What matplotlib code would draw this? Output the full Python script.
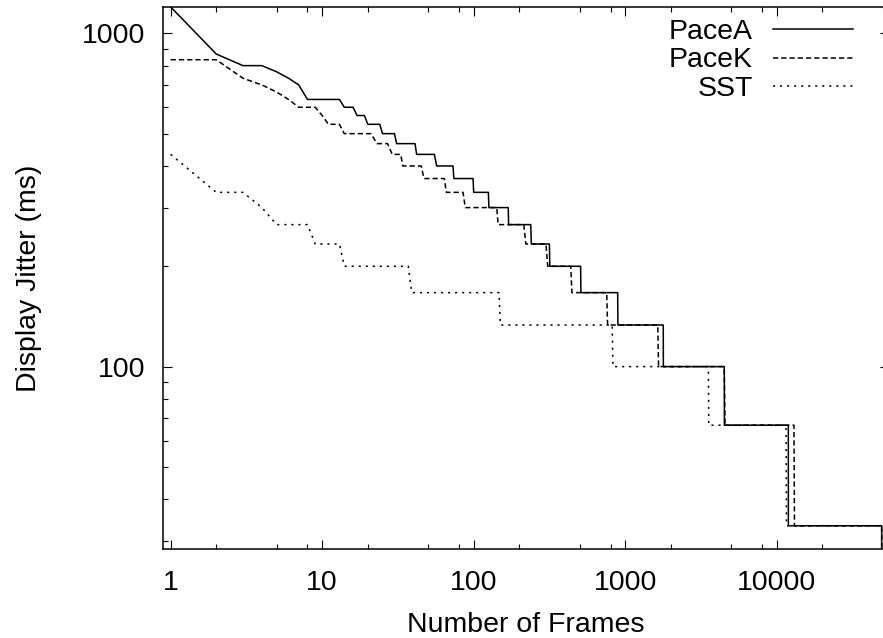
import matplotlib
matplotlib.use('Agg')
import matplotlib.pyplot as plt
from matplotlib.ticker import LogLocator, FuncFormatter, NullFormatter

plt.rcParams['font.family'] = ['Liberation Sans', 'DejaVu Sans']

# ---- data (rank of frame, display jitter in ms) ----
pacea_frames = [1, 2, 3, 4, 5, 6, 7, 8, 13, 14, 16, 17, 19, 20, 24, 25, 30, 31, 41, 42,
                55, 57, 73, 74, 99, 100, 125, 126, 169, 170, 238, 240, 316, 318, 508, 510,
                892, 895, 1783, 1786, 4510, 4515, 11930, 11940, 49300, 49310]
pacea_jitter = [1200, 866.7, 800, 800, 766.7, 733.3, 700, 633.3, 633.3, 600, 600, 566.7,
                566.7, 533.3, 533.3, 500, 500, 466.7, 466.7, 433.3, 433.3, 400, 400, 366.7,
                366.7, 333.3, 333.3, 300, 300, 266.7, 266.7, 233.3, 233.3, 200, 200, 166.7,
                166.7, 133.3, 133.3, 100, 100, 66.7, 66.7, 33.3, 33.3, 20]

pacek_frames = [1, 2, 3, 4, 5, 6, 7, 9, 10, 11, 13, 14, 21, 23, 27, 29, 33, 34, 45, 47,
                64, 66, 85, 88, 142, 145, 214, 221, 300, 308, 437, 445, 755, 765, 1640,
                1660, 4500, 4560, 13000, 13100, 49300, 49310]
pacek_jitter = [833.3, 833.3, 733.3, 700, 666.7, 633.3, 600, 600, 566.7, 533.3, 533.3,
                500, 500, 466.7, 466.7, 433.3, 433.3, 400, 400, 366.7, 366.7, 333.3, 333.3,
                300, 300, 266.7, 266.7, 233.3, 233.3, 200, 200, 166.7, 166.7, 133.3, 133.3,
                100, 100, 66.7, 66.7, 33.3, 33.3, 20]

sst_frames = [1, 2, 3, 4, 5, 8, 9, 13, 14, 37, 39, 147, 150, 820, 830, 3540, 3560,
              11520, 11600, 49300, 49310]
sst_jitter = [433.3, 333.3, 333.3, 300, 266.7, 266.7, 233.3, 233.3, 200, 200, 166.7,
              166.7, 133.3, 133.3, 100, 100, 66.7, 66.7, 33.3, 33.3, 20]

series_names = ['PaceA', 'PaceK', 'SST']
x_label = 'Number of Frames'
y_label = 'Display Jitter (ms)'

# ---- figure ----
W, H = 883, 638
fig = plt.figure(figsize=(W / 100, H / 100), dpi=100)
left_px, right_px, top_px, bottom_px = 163.3, 889.0, 6.7, 549.3
ax = fig.add_axes([left_px / W, 1 - bottom_px / H,
                   (right_px - left_px) / W, (bottom_px - top_px) / H])
ax.set_xscale('log')
ax.set_yscale('log')

lw = 1.1
ax.plot(pacea_frames, pacea_jitter, color='black', lw=lw, ls='-', label=series_names[0])
ax.plot(pacek_frames, pacek_jitter, color='black', lw=lw, ls=(0, (3.4, 2.0)),
        label=series_names[1])
ax.plot(sst_frames, sst_jitter, color='black', lw=lw, ls=(0, (1.4, 3.2)),
        label=series_names[2])

ax.set_xlim(0.894, 55100)
ax.set_ylim(28.3, 1202)

ax.xaxis.set_major_locator(LogLocator(base=10, numticks=20))
ax.xaxis.set_minor_locator(LogLocator(base=10, subs=(2, 5, 8), numticks=20))
ax.yaxis.set_major_locator(LogLocator(base=10, numticks=20))
ax.yaxis.set_minor_locator(LogLocator(base=10, subs=tuple(range(2, 10)), numticks=20))
fmt = FuncFormatter(lambda v, p: f'{v:g}')
ax.xaxis.set_major_formatter(fmt)
ax.yaxis.set_major_formatter(fmt)
ax.xaxis.set_minor_formatter(NullFormatter())
ax.yaxis.set_minor_formatter(NullFormatter())

fs = 20.5
ax.tick_params(which='both', direction='in', top=True, right=True, width=0.8,
               colors='black')
ax.tick_params(which='major', length=6.2)
ax.tick_params(which='minor', length=3.3)
ax.tick_params(axis='x', which='major', labelsize=fs, pad=14.8)
ax.tick_params(axis='y', which='major', labelsize=fs, pad=13.2)
for s in ax.spines.values():
    s.set_linewidth(1.1)

ax.set_xlabel(x_label, fontsize=fs)
ax.set_ylabel(y_label, fontsize=fs)
ax.xaxis.set_label_coords(0.5, (bottom_px - 611.5) / (bottom_px - top_px) - 0.0)
ax.yaxis.set_label_coords((42 - left_px) / (right_px - left_px), 0.5)

leg = ax.legend(loc='upper right',
                bbox_to_anchor=((853 - left_px) / (right_px - left_px),
                                (bottom_px - 19.2) / (bottom_px - top_px)),
                markerfirst=False, frameon=False, fontsize=fs,
                handlelength=2.82, handletextpad=0.69, labelspacing=0.08,
                borderpad=0, borderaxespad=0)

fig.savefig('out.png', dpi=100)
